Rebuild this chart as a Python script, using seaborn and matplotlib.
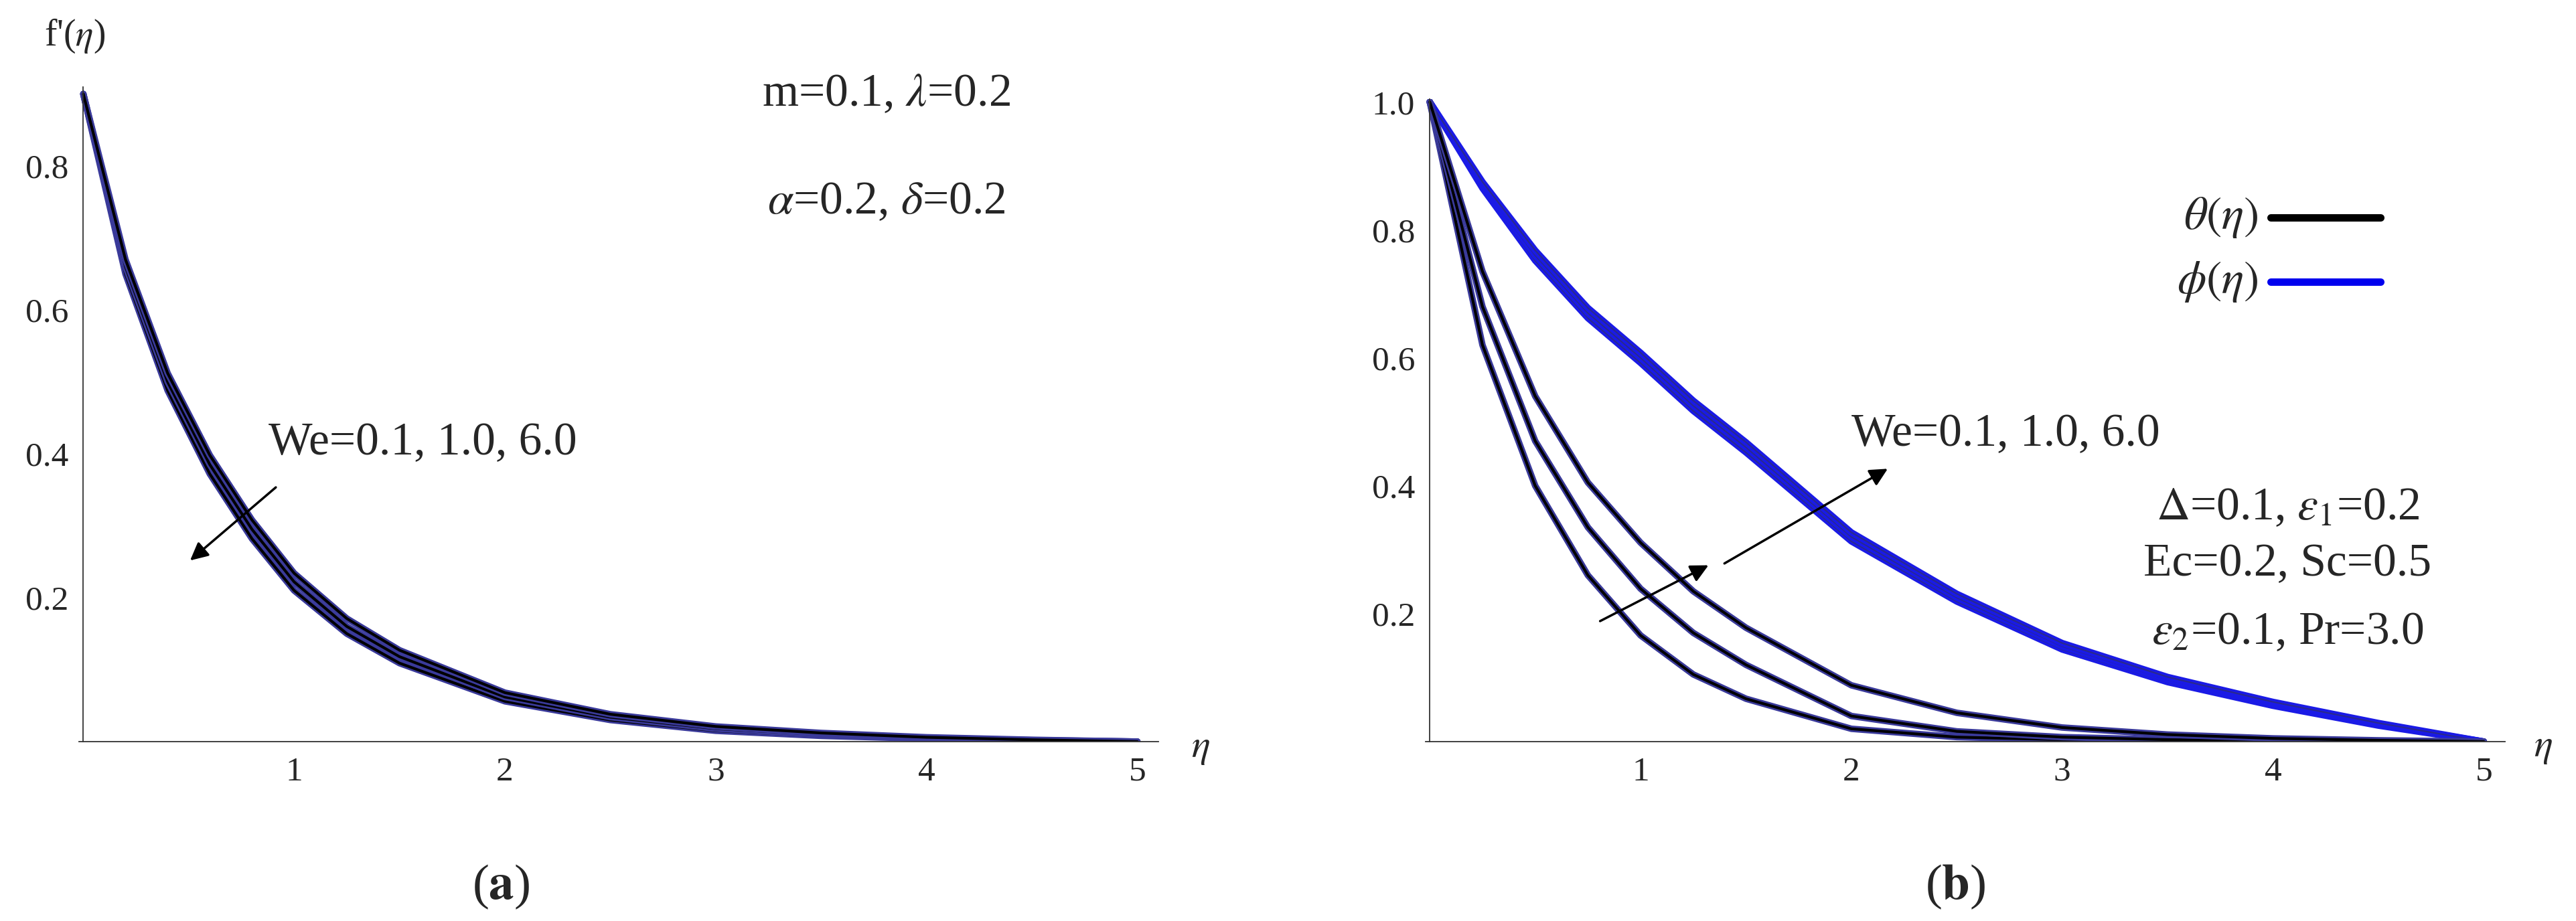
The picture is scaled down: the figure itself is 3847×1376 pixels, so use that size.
import numpy as np
import pandas as pd
import seaborn as sns
import matplotlib.pyplot as plt
from matplotlib.ticker import MultipleLocator

sns.set_style("white")
plt.rcParams['font.family'] = ['Liberation Serif', 'DejaVu Serif']
plt.rcParams['mathtext.fontset'] = 'stix'

# ---- panel (a): f'(eta) for We = 0.1, 1.0, 6.0 ----
eta_a = [0, 0.2, 0.4, 0.6, 0.8, 1.0, 1.25, 1.5, 2.0, 2.5, 3.0, 3.5, 4.0, 4.5, 5.0]
fp_we01 = [0.9, 0.650, 0.488, 0.372, 0.282, 0.210, 0.150, 0.109, 0.056, 0.030, 0.015, 0.008, 0.004, 0.0015, 0.0]
fp_we10 = [0.9, 0.660, 0.500, 0.385, 0.295, 0.222, 0.160, 0.118, 0.062, 0.034, 0.018, 0.010, 0.005, 0.002, 0.0]
fp_we60 = [0.9, 0.670, 0.512, 0.398, 0.308, 0.234, 0.171, 0.127, 0.068, 0.038, 0.021, 0.012, 0.006, 0.0025, 0.0]

# ---- panel (b): theta(eta), phi(eta) ----
eta_b = [0, 0.25, 0.5, 0.75, 1.0, 1.25, 1.5, 2.0, 2.5, 3.0, 3.5, 4.0, 4.5, 5.0]
theta_we01 = [1.0, 0.62, 0.40, 0.260, 0.166, 0.105, 0.067, 0.020, 0.007, 0.003, 0.001, 0.0005, 0.0002, 0.0]
theta_we10 = [1.0, 0.68, 0.47, 0.335, 0.239, 0.170, 0.120, 0.040, 0.016, 0.007, 0.003, 0.001, 0.0005, 0.0]
theta_we60 = [1.0, 0.735, 0.54, 0.405, 0.311, 0.235, 0.178, 0.088, 0.045, 0.022, 0.011, 0.005, 0.002, 0.0]
phi_we01 = [1.0, 0.865, 0.752, 0.662, 0.592, 0.517, 0.452, 0.313, 0.219, 0.144, 0.093, 0.056, 0.025, 0.0]
phi_we10 = [1.0, 0.870, 0.760, 0.670, 0.600, 0.525, 0.460, 0.320, 0.225, 0.149, 0.097, 0.059, 0.027, 0.0]
phi_we60 = [1.0, 0.875, 0.768, 0.678, 0.608, 0.533, 0.468, 0.327, 0.231, 0.154, 0.101, 0.062, 0.029, 0.0]

TICK_FS = 37
TEXT_FS = 50


def style_axis(ax, ymax, ymajor):
    sns.despine(ax=ax)
    ax.spines['left'].set_position(('data', 0))
    ax.spines['bottom'].set_position(('data', 0))
    for s in ['left', 'bottom']:
        ax.spines[s].set_linewidth(1.3)
        ax.spines[s].set_color('#333333')
    ax.set_xlim(-0.02, 5.1)
    ax.set_ylim(0, ymax)
    ax.set_xticks([1, 2, 3, 4, 5])
    ax.xaxis.set_minor_locator(MultipleLocator(0.2))
    ax.set_yticks(ymajor)
    ax.yaxis.set_minor_locator(MultipleLocator(0.05))
    ax.tick_params(which='major', direction='in', length=18, width=1.2, labelsize=TICK_FS, pad=16)
    ax.tick_params(which='minor', direction='in', length=9, width=1.0)
    ax.set_xlabel('')
    ax.set_ylabel('')


def draw_curve(ax, x, y, under, over, lw_under, lw_over):
    df = pd.DataFrame({'eta': x, 'val': y})
    sns.lineplot(data=df, x='eta', y='val', ax=ax, color=under, lw=lw_under, sort=False)
    sns.lineplot(data=df, x='eta', y='val', ax=ax, color=over, lw=lw_over, sort=False)


fig = plt.figure(figsize=(38.47, 13.76), dpi=100)

# panel (a)
ax1 = fig.add_axes([0.0307, 0.1948, 0.419, 0.711])
for ys in [fp_we01, fp_we10, fp_we60]:
    draw_curve(ax1, eta_a, ys, '#3a3a9a', 'black', 7, 3)
style_axis(ax1, 0.91, [0.2, 0.4, 0.6, 0.8])
ax1.text(5.3, -0.01, r'$\eta$', fontsize=42, ha='center', va='center')
fig.text(0.029, 0.961, r"f'($\eta$)", fontsize=40, ha='center', va='center')
ax1.text(3.81, 0.899, r'm=0.1, $\lambda$=0.2', fontsize=TEXT_FS, ha='center', va='center')
ax1.text(3.81, 0.749, r'$\alpha$=0.2, $\delta$=0.2', fontsize=TEXT_FS, ha='center', va='center')
ax1.text(0.88, 0.415, 'We=0.1, 1.0, 6.0', fontsize=TEXT_FS, ha='left', va='center')
ax1.annotate('', xy=(0.5, 0.25), xytext=(0.92, 0.355),
             arrowprops=dict(arrowstyle='-|>', color='black', lw=2.5, mutation_scale=40))
fig.text(0.1945, 0.037, r'($\mathbf{a}$)', fontsize=54, ha='center', va='center')

# panel (b)
ax2 = fig.add_axes([0.5534, 0.1948, 0.419, 0.698])
for ys in [phi_we01, phi_we10, phi_we60]:
    draw_curve(ax2, eta_b, ys, '#1a1ae6', '#2a2a8a', 7, 1.5)
for ys in [theta_we01, theta_we10, theta_we60]:
    draw_curve(ax2, eta_b, ys, '#3a3a9a', 'black', 7, 3)
style_axis(ax2, 1.005, [0.2, 0.4, 0.6, 0.8, 1.0])
ax2.text(5.28, -0.01, r'$\eta$', fontsize=42, ha='center', va='center')
# legend drawn as in the original (text + short line)
ax2.text(3.93, 0.819, r'$\theta(\eta)$', fontsize=TEXT_FS, ha='right', va='center')
ax2.plot([3.99, 4.51], [0.819, 0.819], color='black', lw=8)
ax2.text(3.93, 0.719, r'$\phi(\eta)$', fontsize=TEXT_FS, ha='right', va='center')
ax2.plot([3.99, 4.51], [0.719, 0.719], color='#0000ee', lw=8)
ax2.text(2.0, 0.48, 'We=0.1, 1.0, 6.0', fontsize=TEXT_FS, ha='left', va='center')
ax2.annotate('', xy=(1.33, 0.277), xytext=(0.80, 0.187),
             arrowprops=dict(arrowstyle='-|>', color='black', lw=2.5, mutation_scale=40))
ax2.annotate('', xy=(2.18, 0.428), xytext=(1.39, 0.277),
             arrowprops=dict(arrowstyle='-|>', color='black', lw=2.5, mutation_scale=40))
ax2.text(4.07, 0.365, r'$\Delta$=0.1, $\varepsilon_1$=0.2', fontsize=TEXT_FS, ha='center', va='center')
ax2.text(4.07, 0.277, 'Ec=0.2, Sc=0.5', fontsize=TEXT_FS, ha='center', va='center')
ax2.text(4.07, 0.17, r'$\varepsilon_2$=0.1, Pr=3.0', fontsize=TEXT_FS, ha='center', va='center')
fig.text(0.759, 0.037, r'($\mathbf{b}$)', fontsize=54, ha='center', va='center')

fig.savefig('out.png', dpi=100)
